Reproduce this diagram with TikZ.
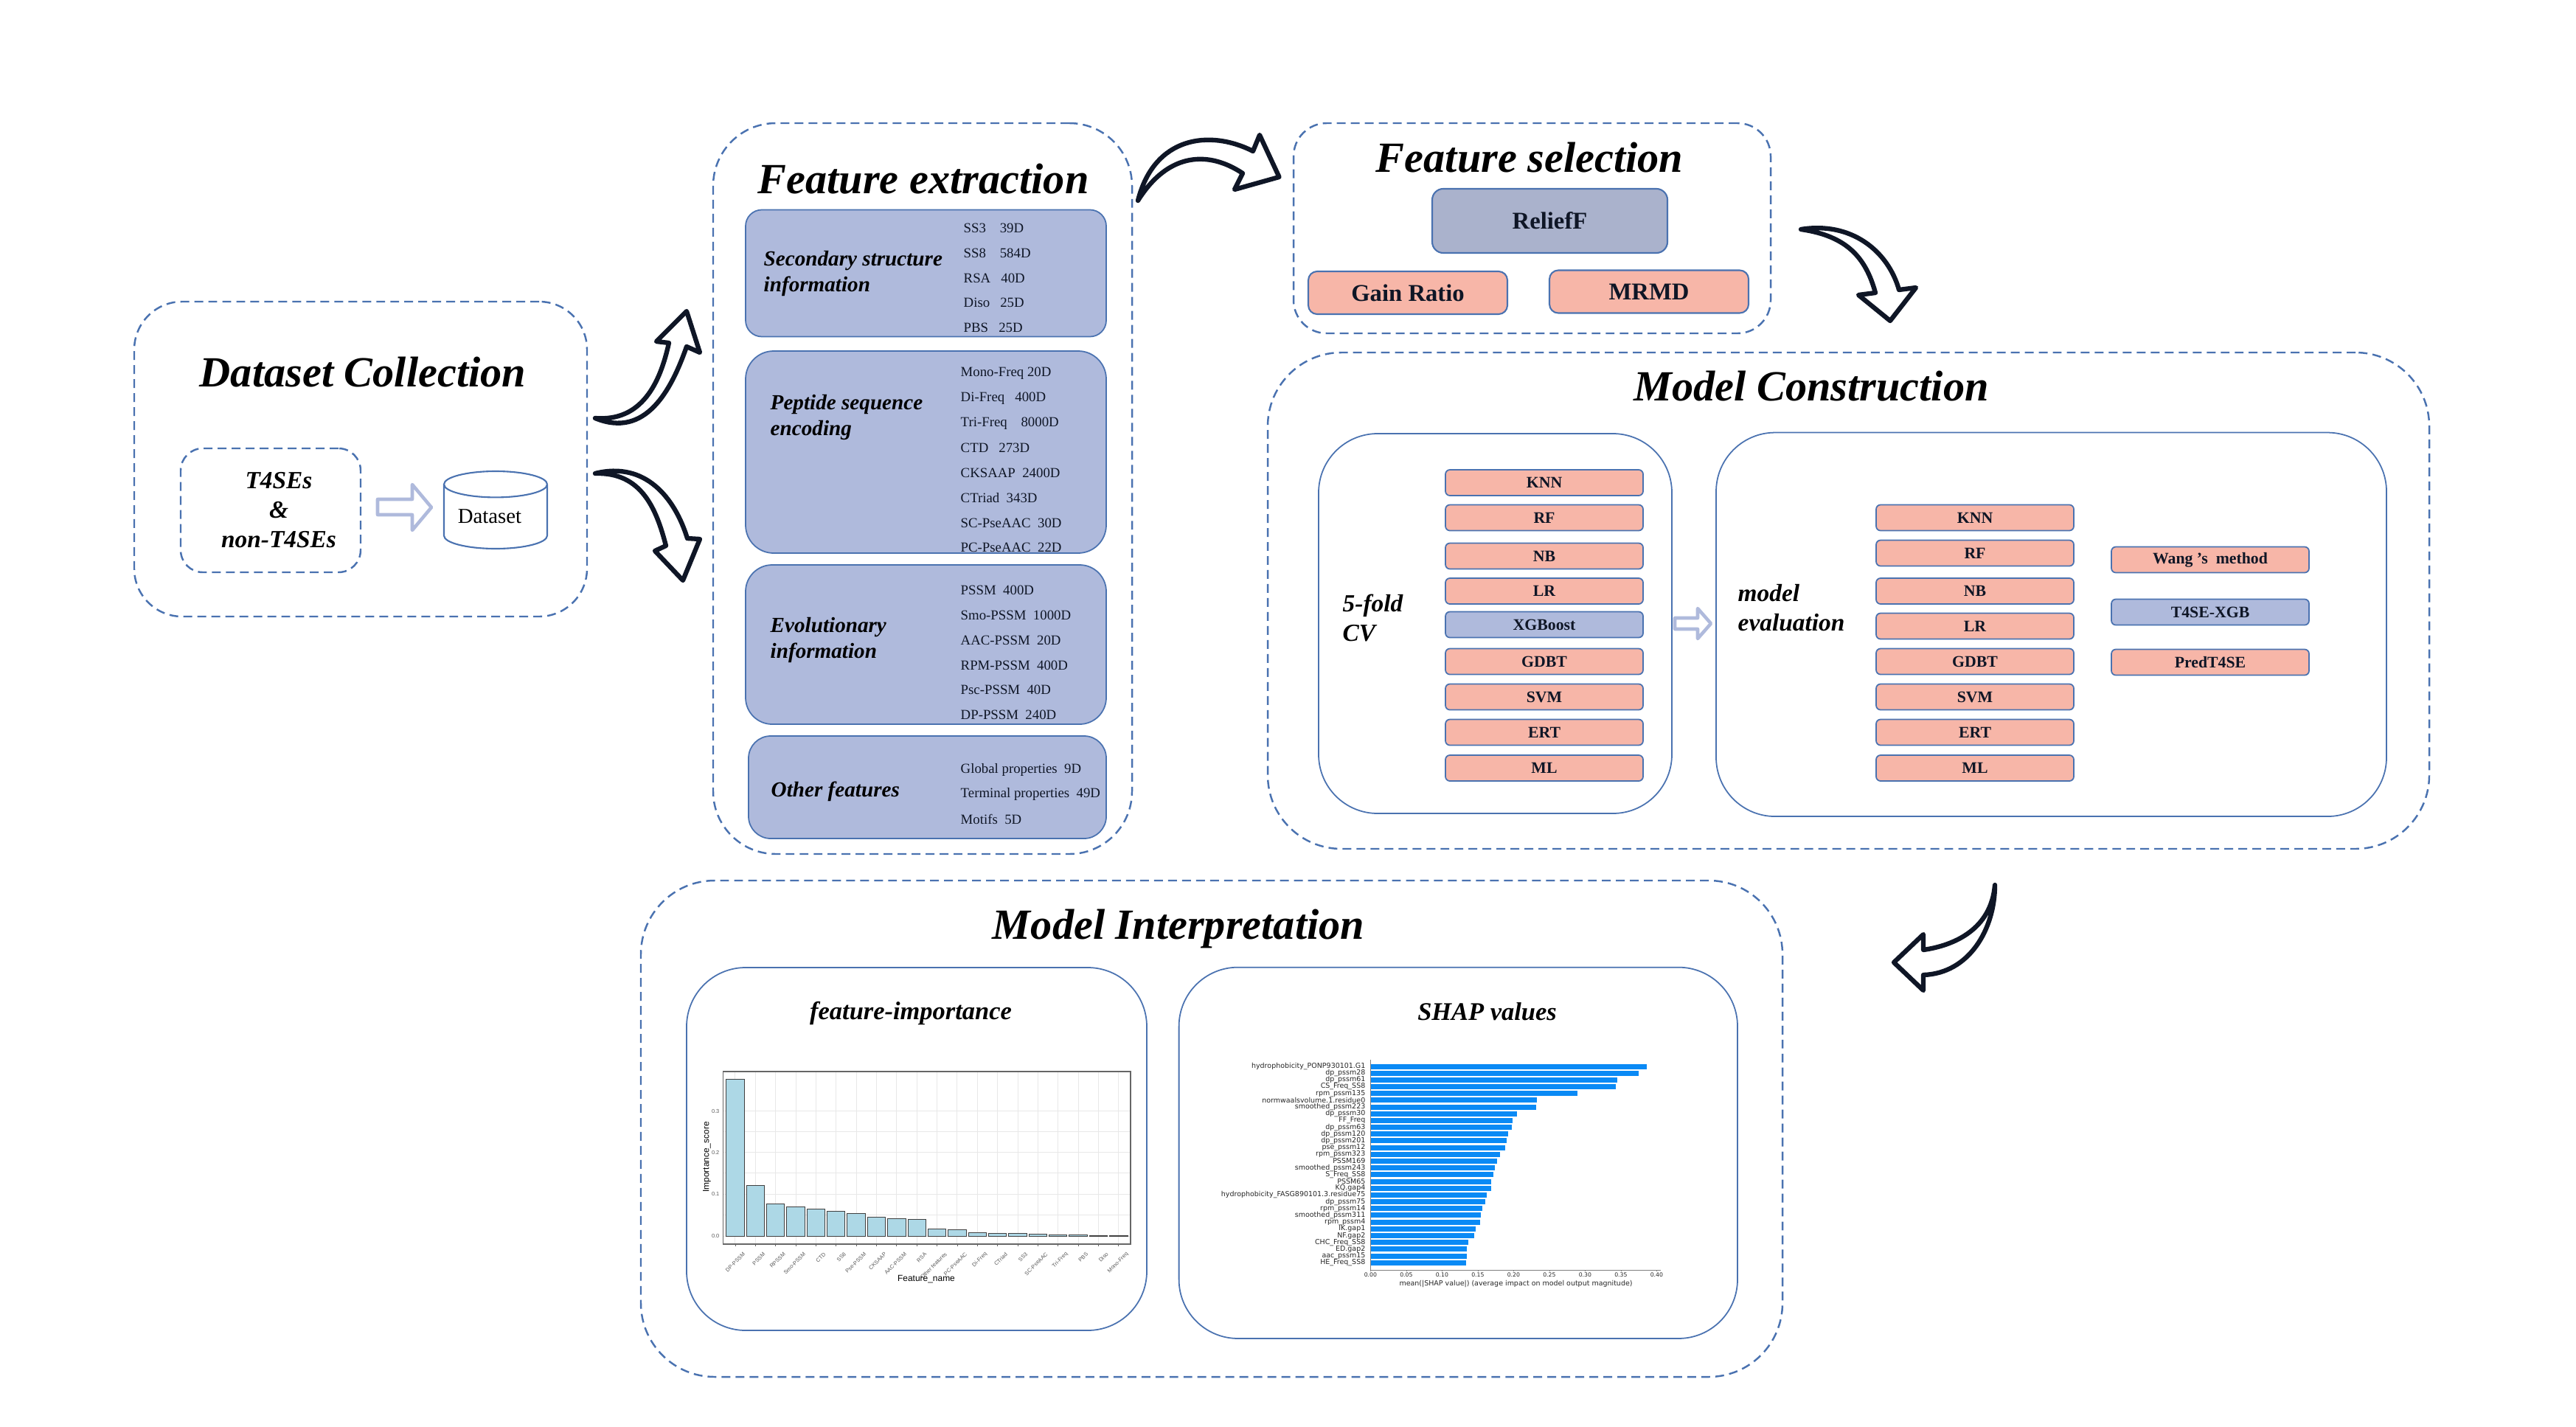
\documentclass[tikz,border=0pt]{standalone}
\usepackage{fontspec}
\setmainfont{Liberation Serif}
\newfontfamily\arialf{Liberation Sans}
\newfontfamily\shapf{DejaVu Sans}
\definecolor{lineblue}{HTML}{4A72B0}
\definecolor{boxblue}{HTML}{AFBADC}
\definecolor{salmon}{HTML}{F7B6A8}
\definecolor{relief}{HTML}{AAB2CC}
\definecolor{inkdark}{HTML}{0F1626}
\definecolor{shapblue}{HTML}{0A8AF5}
\definecolor{impfill}{HTML}{ADD8E6}
\tikzset{
  dashbox/.style={draw=lineblue,dash pattern=on 3.4pt off 2pt,line width=.7pt,inner sep=0pt},
  solidbox/.style={draw=lineblue,line width=.5pt,inner sep=0pt,rounded corners=.8cm},
  groupbox/.style={solidbox,fill=boxblue,minimum width=4.89cm},
  bigtitle/.style={font=\fontsize{16.6}{20}\selectfont\bfseries\itshape,text=black,inner sep=0pt},
  midtitle/.style={font=\fontsize{9.8}{12}\selectfont\bfseries\itshape,inner sep=0pt},
  grouptext/.style={font=\fontsize{8.3}{9.96}\selectfont\bfseries\itshape,align=left,anchor=west,inner sep=0pt},
  sidetext/.style={font=\fontsize{9.5}{11.4}\selectfont\bfseries\itshape,align=left,anchor=west,inner sep=0pt},
  itemtext/.style={font=\fontsize{5.35}{7}\selectfont,anchor=west,inner sep=0pt,text=inkdark},
  selbox/.style={draw=lineblue,line width=.6pt,rounded corners=.12cm,minimum height=.58cm,minimum width=2.7cm,
    inner sep=0pt,fill=salmon,text=inkdark,font=\fontsize{9.3}{11}\selectfont\bfseries},
  algbox/.style={draw=lineblue,line width=.5pt,rounded corners=.06cm,minimum height=.35cm,minimum width=2.68cm,
    inner sep=0pt,fill=salmon,text=inkdark,font=\fontsize{6.2}{7}\selectfont\bfseries},
  algblue/.style={algbox,fill=boxblue},
  curvearrow/.style={draw=inkdark,fill=white,line width=1.8pt,line join=round},
  hollowarrow/.style={draw=boxblue,fill=white,line width=1.3pt,line join=round},
  impbar/.style={draw=black!75,fill=impfill,line width=.25pt},
  tinygray/.style={font=\arialf\fontsize{2.1}{2.5}\selectfont,text=black!65,inner sep=0pt},
  charttext/.style={font=\arialf\fontsize{3.4}{4}\selectfont,inner sep=0pt},
  shaptext/.style={font=\shapf\fontsize{2.7}{3.2}\selectfont,text=black!85,inner sep=0pt},
}
\begin{document}
\begin{tikzpicture}[x=1cm,y=-1cm]
\useasboundingbox (0,0) rectangle (34.93,19.34);
% dataset collection
\node[dashbox,minimum width=6.14cm,minimum height=4.27cm,rounded corners=.65cm] at (4.89,6.225) (collect) {};
\node[bigtitle] at (4.92,5.05) (collecttitle) {Dataset Collection};
\node[dashbox,minimum width=2.44cm,minimum height=1.68cm,rounded corners=.3cm] at (3.67,6.92) (sources) {};
\node[font=\fontsize{9.5}{11.4}\selectfont\bfseries\itshape,align=center,inner sep=0pt] at (3.78,6.92) (sourcetext) {T4SEs\\\&\\non-T4SEs};
\draw[hollowarrow] (5.12,6.77)--(5.59,6.77)--(5.59,6.57)--(5.85,6.88)--(5.59,7.19)--(5.59,6.98)--(5.12,6.98)--cycle;
\draw[draw=lineblue,line width=.6pt] (6.02,6.567)--(6.02,7.263) arc[start angle=180,end angle=360,x radius=.7cm,y radius=.177cm]--(7.42,6.567);
\draw[draw=lineblue,line width=.6pt] (7.42,6.567) arc[start angle=0,end angle=360,x radius=.7cm,y radius=.177cm];
\node[font=\fontsize{8.2}{10}\selectfont,inner sep=0pt] at (6.64,7.00) (db) {Dataset};
% curved arrows
\draw[curvearrow] (8.07,5.67) .. controls (8.75,5.95) and (9.1,5.3) .. (9.31,4.70)--(9.49,4.78)--(9.31,4.22)--(8.90,4.63)--(9.07,4.65) .. controls (8.95,5.2) and (8.7,5.72) .. cycle;
\draw[curvearrow] (8.07,6.42) .. controls (8.75,6.25) and (9.15,6.75) .. (9.32,7.30)--(9.49,7.31)--(9.26,7.87)--(8.88,7.47)--(9.03,7.40) .. controls (8.9,6.9) and (8.7,6.4) .. cycle;
\draw[curvearrow] (15.43,2.72) .. controls (15.65,1.85) and (16.4,1.75) .. (16.99,2.05)--(17.08,1.83)--(17.345,2.40)--(16.74,2.57)--(16.85,2.35) .. controls (16.4,2.05) and (15.85,2.05) .. cycle;
\draw[curvearrow] (24.42,3.11) .. controls (25.1,3.0) and (25.6,3.4) .. (25.75,3.93)--(25.98,3.90)--(25.63,4.35)--(25.20,4.00)--(25.43,3.97) .. controls (25.3,3.5) and (25.05,3.2) .. cycle;
\draw[curvearrow] (27.05,12.00) .. controls (27.05,12.6) and (26.7,13.2) .. (26.08,13.22)--(26.08,13.43)--(25.68,13.05)--(26.08,12.67)--(26.08,12.88) .. controls (26.5,12.82) and (27.0,12.6) .. cycle;
% feature extraction
\node[dashbox,minimum width=5.68cm,minimum height=9.91cm,rounded corners=.85cm] at (12.51,6.625) (extract) {};
\node[bigtitle] at (12.52,2.43) (extracttitle) {Feature extraction};
\node[groupbox,minimum height=1.72cm,rounded corners=.22cm] at (12.555,3.705) (secondary) {};
\node[groupbox,minimum height=2.74cm,rounded corners=.38cm] at (12.555,6.13) (peptide) {};
\node[groupbox,minimum height=2.16cm,rounded corners=.36cm] at (12.555,8.74) (evolution) {};
\node[groupbox,minimum width=4.85cm,minimum height=1.39cm,rounded corners=.3cm] at (12.575,10.675) (other) {};
\node[grouptext] at (10.35,3.71) (secondarytext) {Secondary structure\\information};
\node[grouptext] at (10.44,5.66) (peptidetext) {Peptide sequence\\encoding};
\node[grouptext] at (10.44,8.68) (evolutiontext) {Evolutionary\\information};
\node[grouptext] at (10.45,10.73) (othertext) {Other features};
\foreach \lab/\ypos [count=\i] in {SS3~~~~39D/3.09,SS8~~~~584D/3.43,RSA~~~40D/3.77,Diso~~~25D/4.10,PBS~~~25D/4.44}
  \node[itemtext] at (13.06,\ypos) (secitem\i) {\lab};
\foreach \lab/\ypos [count=\i] in {Mono-Freq 20D/5.06,Di-Freq~~~400D/5.40,Tri-Freq~~~~8000D/5.74,CTD~~~273D/6.07,CKSAAP~~2400D/6.41,CTriad~~343D/6.75,SC-PseAAC~~30D/7.09,PC-PseAAC~~22D/7.42}
  \node[itemtext] at (13.02,\ypos) (pepitem\i) {\lab};
\foreach \lab/\ypos [count=\i] in {PSSM~~400D/8.00,Smo-PSSM~~1000D/8.34,AAC-PSSM~~20D/8.68,RPM-PSSM~~400D/9.02,Psc-PSSM~~40D/9.35,DP-PSSM~~240D/9.69}
  \node[itemtext] at (13.02,\ypos) (evoitem\i) {\lab};
\foreach \lab/\ypos [count=\i] in {Global properties~~9D/10.44,Terminal properties~~49D/10.77,Motifs~~5D/11.11}
  \node[itemtext] at (13.02,\ypos) (othitem\i) {\lab};
% feature selection
\node[dashbox,minimum width=6.47cm,minimum height=2.85cm,rounded corners=.45cm] at (20.775,3.095) (select) {};
\node[bigtitle] at (20.74,2.14) (selecttitle) {Feature selection};
\node[selbox,fill=relief,minimum width=3.19cm,minimum height=.87cm,rounded corners=.15cm] at (21.015,2.995) (relieff) {ReliefF};
\node[selbox] at (19.09,3.97) (gain) {Gain Ratio};
\node[selbox] at (22.36,3.955) (mrmd) {MRMD};
% model construction
\node[dashbox,minimum width=15.75cm,minimum height=6.73cm,rounded corners=1cm] at (25.065,8.145) (construct) {};
\node[bigtitle] at (24.56,5.24) (constructtitle) {Model Construction};
\node[solidbox,minimum width=4.79cm,minimum height=5.15cm] at (20.275,8.455) (cvbox) {};
\node[solidbox,minimum width=9.09cm,minimum height=5.205cm] at (27.815,8.468) (evalbox) {};
\node[sidetext] at (18.20,8.38) (cvtext) {5-fold\\CV};
\node[sidetext] at (23.56,8.245) (evaltext) {model\\evaluation};
\foreach \n/\ypos/\s in {KNN/6.545/algbox,RF/7.02/algbox,NB/7.54/algbox,LR/8.015/algbox,XGBoost/8.47/algblue,GDBT/8.97/algbox,SVM/9.45/algbox,ERT/9.93/algbox,ML/10.415/algbox}
  \node[\s] at (20.94,\ypos) (cv\n) {\n};
\foreach \n/\ypos in {KNN/7.02,RF/7.50,NB/8.015,LR/8.49,GDBT/8.97,SVM/9.45,ERT/9.93,ML/10.415}
  \node[algbox] at (26.78,\ypos) (ev\n) {\n};
\node[algbox] at (29.97,7.59) (wang) {Wang ’s~~method};
\node[algblue] at (29.97,8.30) (t4xgb) {T4SE-XGB};
\node[algbox] at (29.97,8.98) (pred) {PredT4SE};
\draw[hollowarrow] (22.71,8.38)--(23.02,8.38)--(23.02,8.25)--(23.2,8.455)--(23.02,8.66)--(23.02,8.53)--(22.71,8.53)--cycle;
% model interpretation
\node[dashbox,minimum width=15.48cm,minimum height=6.73cm,rounded corners=1cm] at (16.43,15.305) (interpret) {};
\node[bigtitle] at (15.98,12.59) (interprettitle) {Model Interpretation};
\node[solidbox,minimum width=6.24cm,minimum height=4.92cm] at (12.43,15.58) (impbox) {};
\node[solidbox,minimum width=7.574cm,minimum height=5.033cm] at (19.773,15.633) (shapbox) {};
\node[midtitle] at (12.35,13.74) (imptitle) {feature-importance};
\node[midtitle] at (20.165,13.72) (shaptitle) {SHAP values};
% importance chart
\foreach \ypos in {15.067,15.347,15.627,15.907,16.193,16.473,16.76}
  \draw[black!9,line width=.25pt] (9.805,\ypos)--(15.33,\ypos);
\foreach \top [count=\i] in {14.633,16.073,16.323,16.367,16.393,16.423,16.453,16.503,16.523,16.533,16.667,16.677,16.717,16.727,16.727,16.733,16.74,16.747,16.753,16.753} {
  \pgfmathsetmacro{\bx}{9.847+(\i-1)*.2736}
  \draw[black!9,line width=.25pt] ({\bx+.122},14.53)--({\bx+.122},16.87);
  \draw[impbar] (\bx,\top) rectangle ({\bx+.244},16.76);
  \draw[black!60,line width=.2pt] ({\bx+.122},16.87)--({\bx+.122},16.90);
}
\foreach \lab [count=\i] in {DP-PSSM,PSSM,RPSSM,Smo-PSSM,CTD,SS8,Pse-PSSM,CKSAAP,AAC-PSSM,RSA,Other features,PC-PseAAC,Di-Freq,CTriad,SS3,SC-PseAAC,Tri-Freq,PBS,Diso,Mono-Freq} {
  \pgfmathsetmacro{\bx}{9.847+(\i-1)*.2736+.247}
  \node[tinygray,rotate=45,anchor=east] at (\bx,16.99) (implab\i) {\lab};
}
\draw[black!60,line width=.35pt] (9.805,14.53) rectangle (15.33,16.87);
\foreach \val/\ypos in {0.0/16.76,0.1/16.193,0.2/15.627,0.3/15.067}
  \node[tinygray,anchor=east] at (9.76,\ypos) (imptick\val) {\val};
\node[charttext,rotate=90] at (9.586,15.69) (impylab) {Importance\_score};
\node[charttext] at (12.56,17.35) (impxlab) {Feature\_name};
% shap chart
\foreach \lab/\val [count=\i] in {hydrophobicity\_PONP930101.G1/.386,dp\_pssm28/.375,dp\_pssm61/.345,CS\_Freq\_SS8/.343,rpm\_pssm135/.289,normwaalsvolume.1.residue0/.233,smoothed\_pssm223/.232,dp\_pssm30/.205,FF\_Freq/.199,dp\_pssm63/.198,dp\_pssm120/.192,dp\_pssm201/.190,pse\_pssm12/.188,rpm\_pssm323/.181,PSSM169/.177,smoothed\_pssm243/.174,S\_Freq\_SS8/.172,PSSM65/.169,KQ.gap4/.169,hydrophobicity\_FASG890101.3.residue75/.162,dp\_pssm75/.160,rpm\_pssm14/.156,smoothed\_pssm311/.154,rpm\_pssm4/.153,IK.gap1/.147,NF.gap2/.145,CHC\_Freq\_SS8/.137,ED.gap2/.135,aac\_pssm15/.135,HE\_Freq\_SS8/.134} {
  \pgfmathsetmacro{\ypos}{14.46+(\i-1)*.0918}
  \fill[shapblue] (18.584,\ypos-.035) rectangle ({18.584+\val*9.7},\ypos+.035);
  \node[shaptext,anchor=east] at (18.52,\ypos) (shaplab\i) {\lab};
}
\draw[black!50,line width=.2pt] (18.584,14.37)--(18.584,17.22)--(22.52,17.22);
\foreach \val [count=\i] in {0.00,0.05,0.10,0.15,0.20,0.25,0.30,0.35,0.40} {
  \pgfmathsetmacro{\bx}{18.584+(\i-1)*.485}
  \draw[black!50,line width=.2pt] (\bx,17.22)--(\bx,17.24);
  \node[shaptext,font=\shapf\fontsize{2.2}{2.6}\selectfont] at (\bx,17.29) (shaptick\i) {\val};
}
\node[shaptext] at (20.555,17.41) (shapxlab) {mean(|SHAP value|) (average impact on model output magnitude)};
\end{tikzpicture}
\end{document}
